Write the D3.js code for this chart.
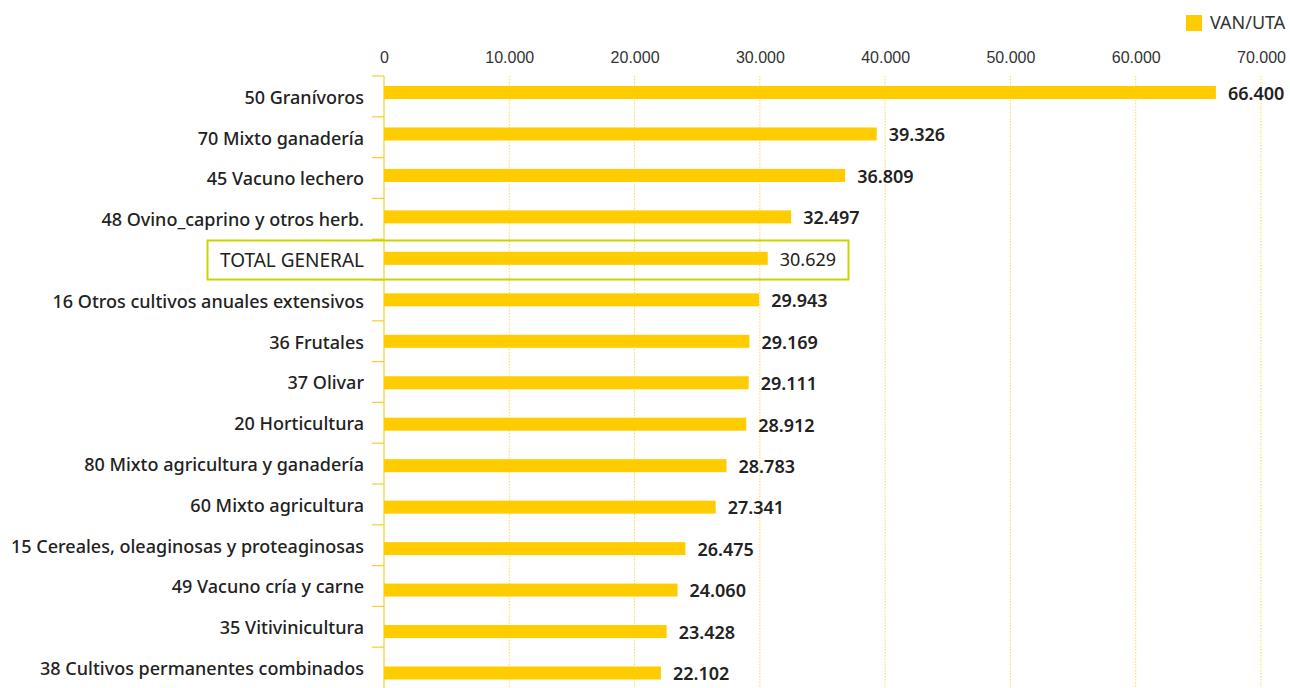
<!DOCTYPE html>
<html lang="es">
<head>
<meta charset="UTF-8">
<title>VAN/UTA por OTE</title>
<script src="https://cdn.jsdelivr.net/npm/d3@7"></script>
<style>
    body { margin: 0; background: #fff; }
    svg { display: block; font-family: "Noto Sans", "Open Sans", sans-serif; }
    .cat { font-size: 18px; font-weight: 500; fill: #222; }
    .val { font-size: 18px; font-weight: 600; fill: #222; }
    .xaxis text { font-size: 16px; fill: #333; }
</style>
</head>
<body>
<svg width="1290" height="688"></svg>
<script>
    // datos
    const categories = [
        "50 Granívoros",
        "70 Mixto ganadería",
        "45 Vacuno lechero",
        "48 Ovino_caprino y otros herb.",
        "TOTAL GENERAL",
        "16 Otros cultivos anuales extensivos",
        "36 Frutales",
        "37 Olivar",
        "20 Horticultura",
        "80 Mixto agricultura y ganadería",
        "60 Mixto agricultura",
        "15 Cereales, oleaginosas y proteaginosas",
        "49 Vacuno cría y carne",
        "35 Vitivinicultura",
        "38 Cultivos permanentes combinados"
    ];
    // valores rotulados
    const vanUta = [66400, 39326, 36809, 32497, 30629, 29943, 29169, 29111, 28912, 28783, 27341, 26475, 24060, 23428, 22102];
    // longitud de las barras tal y como aparecen dibujadas
    const barVan = [66400, 39326, 36809, 32497, 30629, 29943, 29169, 29111, 28912, 27341, 26475, 24060, 23428, 22560, 22102];
    const xTicks = [0, 10000, 20000, 30000, 40000, 50000, 60000, 70000];
    const seriesName = "VAN/UTA";
    const highlight = "TOTAL GENERAL";

    const data = categories.map((c, i) => ({ cat: c, v: vanUta[i], bar: barVan[i] }));

    const es = d3.formatLocale({ decimal: ",", thousands: ".", grouping: [3], currency: ["", " €"] });
    const fmt = es.format(",d");

    const svg = d3.select("svg");
    const yellow = "#ffcc00";

    const x = d3.scaleLinear().domain([0, 70000]).range([384, 1261]);
    // bandas de etiquetas y eje
    const yBand = d3.scaleBand().domain(categories).range([76, 688]);
    // centros de las barras
    const yBar = d3.scalePoint().domain(categories).range([92.5, 673]);
    const barH = 13;

    // rejilla vertical punteada
    svg.append("g")
        .selectAll("line")
        .data(xTicks.slice(1))
        .join("line")
        .attr("x1", d => x(d)).attr("x2", d => x(d))
        .attr("y1", 76).attr("y2", 688)
        .attr("stroke", "#ffd84d")
        .attr("stroke-width", 1)
        .attr("stroke-dasharray", "1.5,1.5");

    // eje superior
    const xAxis = svg.append("g")
        .attr("class", "xaxis")
        .attr("transform", "translate(0,63)")
        .call(d3.axisTop(x).tickValues(xTicks).tickFormat(fmt).tickSize(0).tickPadding(0));
    xAxis.select(".domain").remove();
    xAxis.selectAll("text").attr("dy", "0");

    // eje izquierdo
    const yAxisG = svg.append("g");
    yAxisG.append("line")
        .attr("x1", 384).attr("x2", 384)
        .attr("y1", 76).attr("y2", 688)
        .attr("stroke", "#f6cf2a").attr("stroke-width", 1.2);
    yAxisG.selectAll("line.tick")
        .data(categories)
        .join("line")
        .attr("class", "tick")
        .attr("x1", 372).attr("x2", 384)
        .attr("y1", d => yBand(d)).attr("y2", d => yBand(d))
        .attr("stroke", "#f6cf2a").attr("stroke-width", 1.2);

    // recuadro TOTAL GENERAL
    svg.append("rect")
        .attr("x", 207.5).attr("y", 240.5)
        .attr("width", 641).attr("height", 39)
        .attr("fill", "none")
        .attr("stroke", "#c9d400")
        .attr("stroke-width", 2);

    // barras
    svg.append("g")
        .selectAll("rect")
        .data(data)
        .join("rect")
        .attr("x", x(0))
        .attr("y", d => yBar(d.cat) - barH / 2)
        .attr("width", d => x(d.bar) - x(0))
        .attr("height", barH)
        .attr("fill", yellow);

    // etiquetas de categoría
    svg.append("g")
        .selectAll("text")
        .data(data)
        .join("text")
        .attr("class", "cat")
        .attr("x", 364)
        .attr("y", d => yBand(d.cat) + yBand.bandwidth() / 2 + 1)
        .attr("dy", "0.35em")
        .attr("text-anchor", "end")
        .style("font-weight", d => d.cat === highlight ? 400 : null)
        .style("font-size", d => d.cat === highlight ? "19px" : null)
        .text(d => d.cat);

    // valores
    svg.append("g")
        .selectAll("text")
        .data(data)
        .join("text")
        .attr("class", "val")
        .attr("x", d => x(d.bar) + 12)
        .attr("y", d => yBar(d.cat) + 1)
        .attr("dy", "0.35em")
        .style("font-weight", d => d.cat === highlight ? 400 : null)
        .text(d => fmt(d.v));

    // leyenda
    const legend = svg.append("g").attr("transform", "translate(1186,15)");
    legend.append("rect").attr("width", 16).attr("height", 16).attr("fill", yellow);
    legend.append("text")
        .attr("x", 24).attr("y", 8).attr("dy", "0.35em")
        .style("font-size", "18px").style("fill", "#333")
        .text(seriesName);
</script>
</body>
</html>
